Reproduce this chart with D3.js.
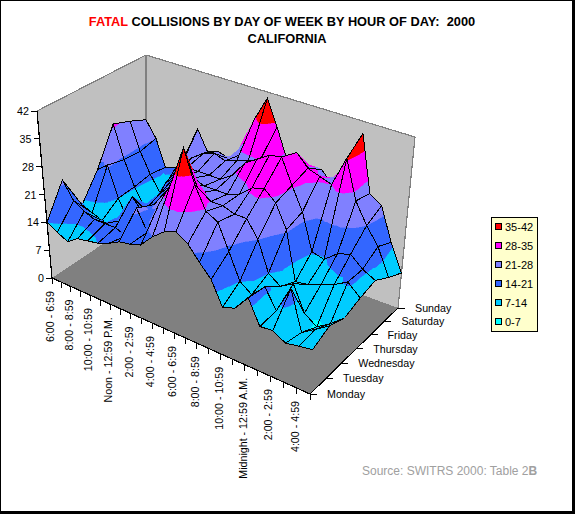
<!DOCTYPE html>
<html><head><meta charset="utf-8">
<style>html,body{margin:0;padding:0;background:#fff}svg{display:block}text{font-family:"Liberation Sans",Arial,sans-serif}</style>
<script src="https://cdn.jsdelivr.net/npm/d3@7"></script></head><body>
<script>
const hours=["6:00 - 6:59","7:00 - 7:59","8:00 - 8:59","9:00 - 9:59","10:00 - 10:59","11:00 - 11:59","Noon - 12:59 P.M.","1:00 - 1:59","2:00 - 2:59","3:00 - 3:59","4:00 - 4:59","5:00 - 5:59","6:00 - 6:59 ","7:00 - 7:59 ","8:00 - 8:59 ","9:00 - 9:59 ","10:00 - 10:59 ","11:00 - 11:59 ","Midnight - 12:59 A.M.","1:00 - 1:59 ","2:00 - 2:59 ","3:00 - 3:59 ","4:00 - 4:59 ","5:00 - 5:59 "];
const days=["Monday","Tuesday","Wednesday","Thursday","Friday","Saturday","Sunday"];
const zTicks=[0,7,14,21,28,35,42];
const bandLabels=["35-42","28-35","21-28","14-21","7-14","0-7"];
const bandColors=["#ff0000","#ff00ff","#8080ff","#3366ff","#00ccff","#00ffff"];
const monday=[14,12.5,11.2,13,13.5,14,15,16.5,17,18,21,23.3,24.4,22.6,19.3,16.4,11,12,15.6,10.2,10.5,8.9,9.5,10];
const tuesday=[22,17.7,16,15,15,15,14,22,17,25,31,41,33,27.5,26,20,14,12,15,10.6,17,8,10,12];
const wednesday=[13,12,11,11,13,20,17,20,24,27,28,27,26,26,25,25,21,14,12,13.8,8,6,8,10.6];
const thursday=[19.5,21.5,14,9,11,13,19,22,25,26,25,25,25,26,28.6,29.5,27,21.5,10,10.5,11.6,12.8,14.6,12];
const friday=[28.7,20.4,14.3,10,12,18,21,24,24,24,24,26,30,32,34,34.5,28.5,23,14.3,13.5,16,17,14.5,13];
const saturday=[27,20,15,11,13,20,23,25,26,25,26,27,28,30,30,33,30,29,28,35.5,26,21,17,10.6];
const sunday=[25,21,14.3,15,20,27,22,23,22,24,34,40.5,34,27,26,26,27,24,30,39,25,23,15,8.6];
const values=[monday,tuesday,wednesday,thursday,friday,saturday,sunday];

const W=575,H=514;
const svg=d3.select("body").append("svg").attr("width",W).attr("height",H);
svg.append("rect").attr("x",0.5).attr("y",0.5).attr("width",572).attr("height",511).attr("fill","#fff").attr("stroke","#000").attr("stroke-width",1);
svg.append("rect").attr("x",573).attr("y",0).attr("width",2).attr("height",514).attr("fill","#000");
svg.append("rect").attr("x",0).attr("y",512).attr("width",575).attr("height",2).attr("fill","#000");

function quadMap(q){
  const [[x0,y0],[x1,y1],[x2,y2],[x3,y3]]=q;
  const dx1=x1-x2,dx2=x3-x2,sx=x0-x1+x2-x3,dy1=y1-y2,dy2=y3-y2,sy=y0-y1+y2-y3,det=dx1*dy2-dx2*dy1;
  const g=(sx*dy2-dx2*sy)/det,h=(dx1*sy-sx*dy1)/det;
  const a=x1-x0+g*x1,b=x3-x0+h*x3,d=y1-y0+g*y1,e=y3-y0+h*y3;
  return (u,v)=>{const w=g*u+h*v+1;return [(a*u+b*v+x0)/w,(d*u+e*v+y0)/w];};
}
const floorQ=[[52,278],[310,394],[398,308],[146,215]];
const topQ=[[37,111],[321,208],[415,137],[146,55]];
const floorMap=quadMap(floorQ),topMap=quadMap(topQ);
const uScale=d3.scalePoint().domain(hours).range([0,1]);
const vScale=d3.scalePoint().domain(days).range([0,1]);
const zScale=d3.scaleLinear().domain([0,42]).range([0,1]);
function proj(u,v,z){const f=floorMap(u,v),t=topMap(u,v),k=zScale(z);return [f[0]+(t[0]-f[0])*k,f[1]+(t[1]-f[1])*k];}
const pathOf=pts=>"M"+pts.map(p=>p[0].toFixed(2)+","+p[1].toFixed(2)).join("L")+"Z";

const wallFill="#c0c0c0",edge="#808080";
const gWalls=svg.append("g").attr("shape-rendering","crispEdges");
gWalls.append("path").attr("d",pathOf([proj(0,0,0),proj(0,0,42),proj(0,1,42),proj(0,1,0)])).attr("fill",wallFill);
gWalls.append("path").attr("d",pathOf([proj(0,1,0),proj(0,1,42),proj(1,1,42),proj(1,1,0)])).attr("fill",wallFill);
gWalls.append("path").attr("d",pathOf([proj(0,0,0),proj(1,0,0),proj(1,1,0),proj(0,1,0)])).attr("fill","#808080");
const line=(a,b,c,w)=>svg.append("line").attr("x1",a[0]).attr("y1",a[1]).attr("x2",b[0]).attr("y2",b[1]).attr("stroke",c).attr("stroke-width",w).attr("shape-rendering","crispEdges");
line(proj(0,0,42),proj(0,1,42),edge,1.2);
line(proj(0,1,42),proj(1,1,42),edge,1.2);
line(proj(0,1,42),proj(0,1,0),edge,1.2);
line(proj(1,1,42),proj(1,1,0),edge,1.2);

function clip(poly,lo,hi){
  const cut=(pts,keep,at)=>{const out=[];pts.forEach((p,i)=>{const q=pts[(i+1)%pts.length],kp=keep(p[2]),kq=keep(q[2]);
    if(kp)out.push(p);
    if(kp!==kq){const s=(at-p[2])/(q[2]-p[2]);out.push([p[0]+s*(q[0]-p[0]),p[1]+s*(q[1]-p[1]),at]);}
  });return out;};
  let r=cut(poly,z=>z>=lo,lo);
  if(r.length)r=cut(r,z=>z<=hi,hi);
  return r;
}
const bands=zTicks.slice(0,-1).map((lo,k)=>({lo,hi:zTicks[k+1],color:bandColors[5-k]}));
const gSurf=svg.append("g");
d3.range(days.length-2,-1,-1).forEach(j=>{
  d3.range(hours.length-1).forEach(i=>{
    const v3=(a,b)=>[uScale(hours[a]),vScale(days[b]),values[b][a]];
    const c=[v3(i,j),v3(i+1,j),v3(i+1,j+1),v3(i,j+1)];
    const m=[d3.mean(c,d=>d[0]),d3.mean(c,d=>d[1]),d3.mean(c,d=>d[2])];
    const cell=gSurf.append("g");
    c.forEach((p,k)=>{
      const tri=[p,c[(k+1)%4],m];
      bands.forEach(b=>{
        const poly=clip(tri,b.lo,b.hi);
        if(poly.length>2){
          const d=pathOf(poly.map(q=>proj(q[0],q[1],q[2])));
          cell.append("path").attr("d",d).attr("fill",b.color).attr("stroke",b.color).attr("stroke-width",0.6).attr("shape-rendering","crispEdges");
        }
      });
    });
    cell.append("path").attr("d",pathOf(c.map(q=>proj(q[0],q[1],q[2])))).attr("fill","none").attr("stroke","#000").attr("stroke-width",1).attr("shape-rendering","crispEdges");
  });
});

const gAxis=svg.append("g").attr("font-size",10.7).attr("fill","#000");
line(proj(0,0,0),proj(0,0,42),"#000",1.2);
line(proj(0,0,0),proj(1,0,0),"#000",1.2);
line(proj(1,0,0),proj(1,1,0),"#000",1.2);
zTicks.forEach(z=>{
  const p=proj(0,0,z);
  line([p[0]-6,p[1]],[p[0]+(z===0?3:0),p[1]],"#000",1);
  gAxis.append("text").attr("x",p[0]-8).attr("y",p[1]+4).attr("text-anchor","end").text(z);
});
hours.forEach((h,i)=>{
  const p=proj(uScale(h),0,0);
  line(p,[p[0],p[1]+6],"#000",1);
  if(i%2===0&&i<23){
    gAxis.append("text").attr("transform",`translate(${p[0]+2},${p[1]+13}) rotate(-90)`).attr("text-anchor","end").text(h.trim());
  }
});
days.forEach(d=>{
  const p=proj(1,vScale(d),0);
  line(p,[p[0]+7,p[1]],"#000",1);
  gAxis.append("text").attr("x",p[0]+17).attr("y",p[1]+4).text(d);
});

const title=svg.append("g").attr("font-size",12.8).attr("font-weight","bold").attr("text-anchor","middle");
const t1=title.append("text").attr("x",282).attr("y",26).attr("xml:space","preserve");
t1.append("tspan").attr("fill","#ff0000").text("FATAL");
t1.append("tspan").attr("fill","#000").text(" COLLISIONS BY DAY OF WEEK BY HOUR OF DAY:  2000");
title.append("text").attr("x",287).attr("y",43).text("CALIFORNIA");

const lg=svg.append("g");
lg.append("rect").attr("x",491.5).attr("y",217.5).attr("width",46).attr("height",114).attr("fill","#ffffcc").attr("stroke","#000");
bandLabels.forEach((b,k)=>{
  const y=227+k*19;
  lg.append("rect").attr("x",495.5).attr("y",y-3.5).attr("width",6).attr("height",6).attr("fill",bandColors[k]).attr("stroke","#000");
  lg.append("text").attr("x",505).attr("y",y+4).attr("font-size",11).text(b);
});
const s=svg.append("text").attr("x",362).attr("y",475).attr("font-size",12).attr("fill","#a0a0a0");
s.append("tspan").text("Source: SWITRS 2000: Table 2");
s.append("tspan").attr("font-weight","bold").text("B");
</script></body></html>
